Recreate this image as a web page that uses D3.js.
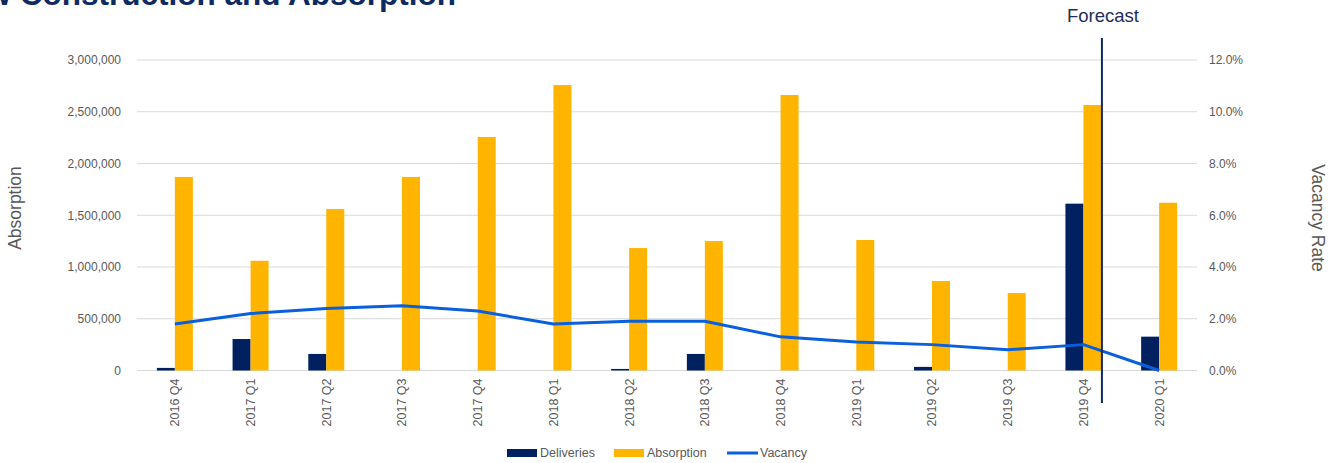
<!DOCTYPE html>
<html>
<head>
<meta charset="utf-8">
<script src="https://cdn.jsdelivr.net/npm/d3@7"></script>
<style>
  body { margin: 0; background: #fff; }
  svg { display: block; font-family: "Liberation Sans", Arial, sans-serif; }
</style>
</head>
<body>
<svg id="chart" width="1338" height="463"></svg>
<script>
const categories = ["2016 Q4","2017 Q1","2017 Q2","2017 Q3","2017 Q4","2018 Q1","2018 Q2","2018 Q3","2018 Q4","2019 Q1","2019 Q2","2019 Q3","2019 Q4","2020 Q1"];
const deliveries = [25000, 304000, 160000, 0, 0, 0, 15000, 160000, 0, 0, 35000, 0, 1612000, 327000];
const absorption = [1870000, 1060000, 1560000, 1870000, 2256000, 2758000, 1183000, 1251000, 2662000, 1261000, 865000, 749000, 2565000, 1621000];
const vacancy = [1.8, 2.2, 2.4, 2.5, 2.3, 1.8, 1.9, 1.9, 1.3, 1.1, 1.0, 0.8, 1.0, 0.0];
const leftTicks = [0, 500000, 1000000, 1500000, 2000000, 2500000, 3000000];
const rightTicks = [0, 2, 4, 6, 8, 10, 12];
const seriesNames = ["Deliveries", "Absorption", "Vacancy"];
const forecastAfter = "2019 Q4";

const colors = { Deliveries: "#002060", Absorption: "#FFB500", Vacancy: "#0A5FDC" };
const svg = d3.select("#chart");
const m = { left: 137, right: 1197, top: 60, bottom: 370.5 };
const FONT = "Liberation Sans, Arial, sans-serif";

const x = d3.scaleBand().domain(categories).range([m.left, m.right]).paddingInner(0).paddingOuter(0);
const yL = d3.scaleLinear().domain([0, 3000000]).range([m.bottom, m.top]);
const yR = d3.scaleLinear().domain([0, 12]).range([m.bottom, m.top]);
const barW = 18;

// title (cut off at top, as in the source image)
svg.append("text").attr("x", 456).attr("y", 5).attr("text-anchor", "end")
  .attr("font-size", 31.5).attr("font-weight", "bold").attr("fill", "#0E2A63")
  .text("New Construction and Absorption");

// gridlines
svg.append("g").selectAll("line").data(leftTicks).join("line")
  .attr("x1", m.left).attr("x2", m.right)
  .attr("y1", d => yL(d)).attr("y2", d => yL(d))
  .attr("stroke", "#D9D9D9").attr("stroke-width", 1);

// left axis
const fmt = d3.format(",");
const gL = svg.append("g").attr("transform", `translate(${m.left},0)`)
  .call(d3.axisLeft(yL).tickValues(leftTicks).tickFormat(d => fmt(d)).tickSize(0).tickPadding(16));
gL.select(".domain").remove();
gL.selectAll("text").attr("font-size", 12).attr("fill", "#595959").attr("font-family", FONT);

// right axis
const gR = svg.append("g").attr("transform", `translate(${m.right},0)`)
  .call(d3.axisRight(yR).tickValues(rightTicks).tickFormat(d => d.toFixed(1) + "%").tickSize(0).tickPadding(12));
gR.select(".domain").remove();
gR.selectAll("text").attr("font-size", 12).attr("fill", "#595959").attr("font-family", FONT);

// x axis labels
const gX = svg.append("g").attr("transform", `translate(0,${m.bottom})`)
  .call(d3.axisBottom(x).tickSize(0).tickPadding(0));
gX.select(".domain").remove();
gX.selectAll("text")
  .attr("font-size", 12.5).attr("fill", "#595959").attr("font-family", FONT)
  .attr("transform", "rotate(-90)")
  .attr("text-anchor", "end").attr("x", -8).attr("y", 0).attr("dy", "0.35em");

// bars
const cx = d => x(d) + x.bandwidth() / 2;
svg.append("g").selectAll("rect").data(categories).join("rect")
  .attr("x", d => cx(d) - barW).attr("width", barW)
  .attr("y", (d, i) => yL(deliveries[i])).attr("height", (d, i) => m.bottom - yL(deliveries[i]))
  .attr("fill", colors.Deliveries);
svg.append("g").selectAll("rect").data(categories).join("rect")
  .attr("x", d => cx(d)).attr("width", barW)
  .attr("y", (d, i) => yL(absorption[i])).attr("height", (d, i) => m.bottom - yL(absorption[i]))
  .attr("fill", colors.Absorption);

// vacancy line
const line = d3.line().x((d, i) => cx(categories[i])).y(d => yR(d));
svg.append("path").datum(vacancy).attr("d", line)
  .attr("fill", "none").attr("stroke", colors.Vacancy).attr("stroke-width", 3)
  .attr("stroke-linejoin", "round");

// axis titles
svg.append("text").attr("transform", "translate(21,208) rotate(-90)")
  .attr("text-anchor", "middle").attr("font-size", 17.5).attr("fill", "#595959").text("Absorption");
svg.append("text").attr("transform", "translate(1312,218) rotate(90)")
  .attr("text-anchor", "middle").attr("font-size", 17.5).attr("fill", "#595959").text("Vacancy Rate");

// forecast divider
const fx = cx(forecastAfter) + 18.5;
svg.append("line").attr("x1", fx).attr("x2", fx).attr("y1", 38).attr("y2", 403)
  .attr("stroke", "#0E2A63").attr("stroke-width", 2);
svg.append("text").attr("x", fx + 1).attr("y", 22).attr("text-anchor", "middle")
  .attr("font-size", 18.5).attr("fill", "#1F2D5C").text("Forecast");

// legend
const leg = svg.append("g");
const legX = [507, 614, 727];
seriesNames.forEach((s, i) => {
  const g = leg.append("g").attr("transform", `translate(${legX[i]},453)`);
  if (s === "Vacancy") {
    g.append("line").attr("x1", 0).attr("x2", 31).attr("y1", 0).attr("y2", 0)
      .attr("stroke", colors[s]).attr("stroke-width", 3);
    g.append("text").attr("x", 33).attr("y", 0).attr("dy", "0.35em")
      .attr("font-size", 12.5).attr("fill", "#595959").attr("font-family", FONT).text(s);
  } else {
    g.append("rect").attr("x", 0).attr("y", -4).attr("width", 30).attr("height", 8).attr("fill", colors[s]);
    g.append("text").attr("x", 33).attr("y", 0).attr("dy", "0.35em")
      .attr("font-size", 12.5).attr("fill", "#595959").attr("font-family", FONT).text(s);
  }
});
</script>
</body>
</html>
